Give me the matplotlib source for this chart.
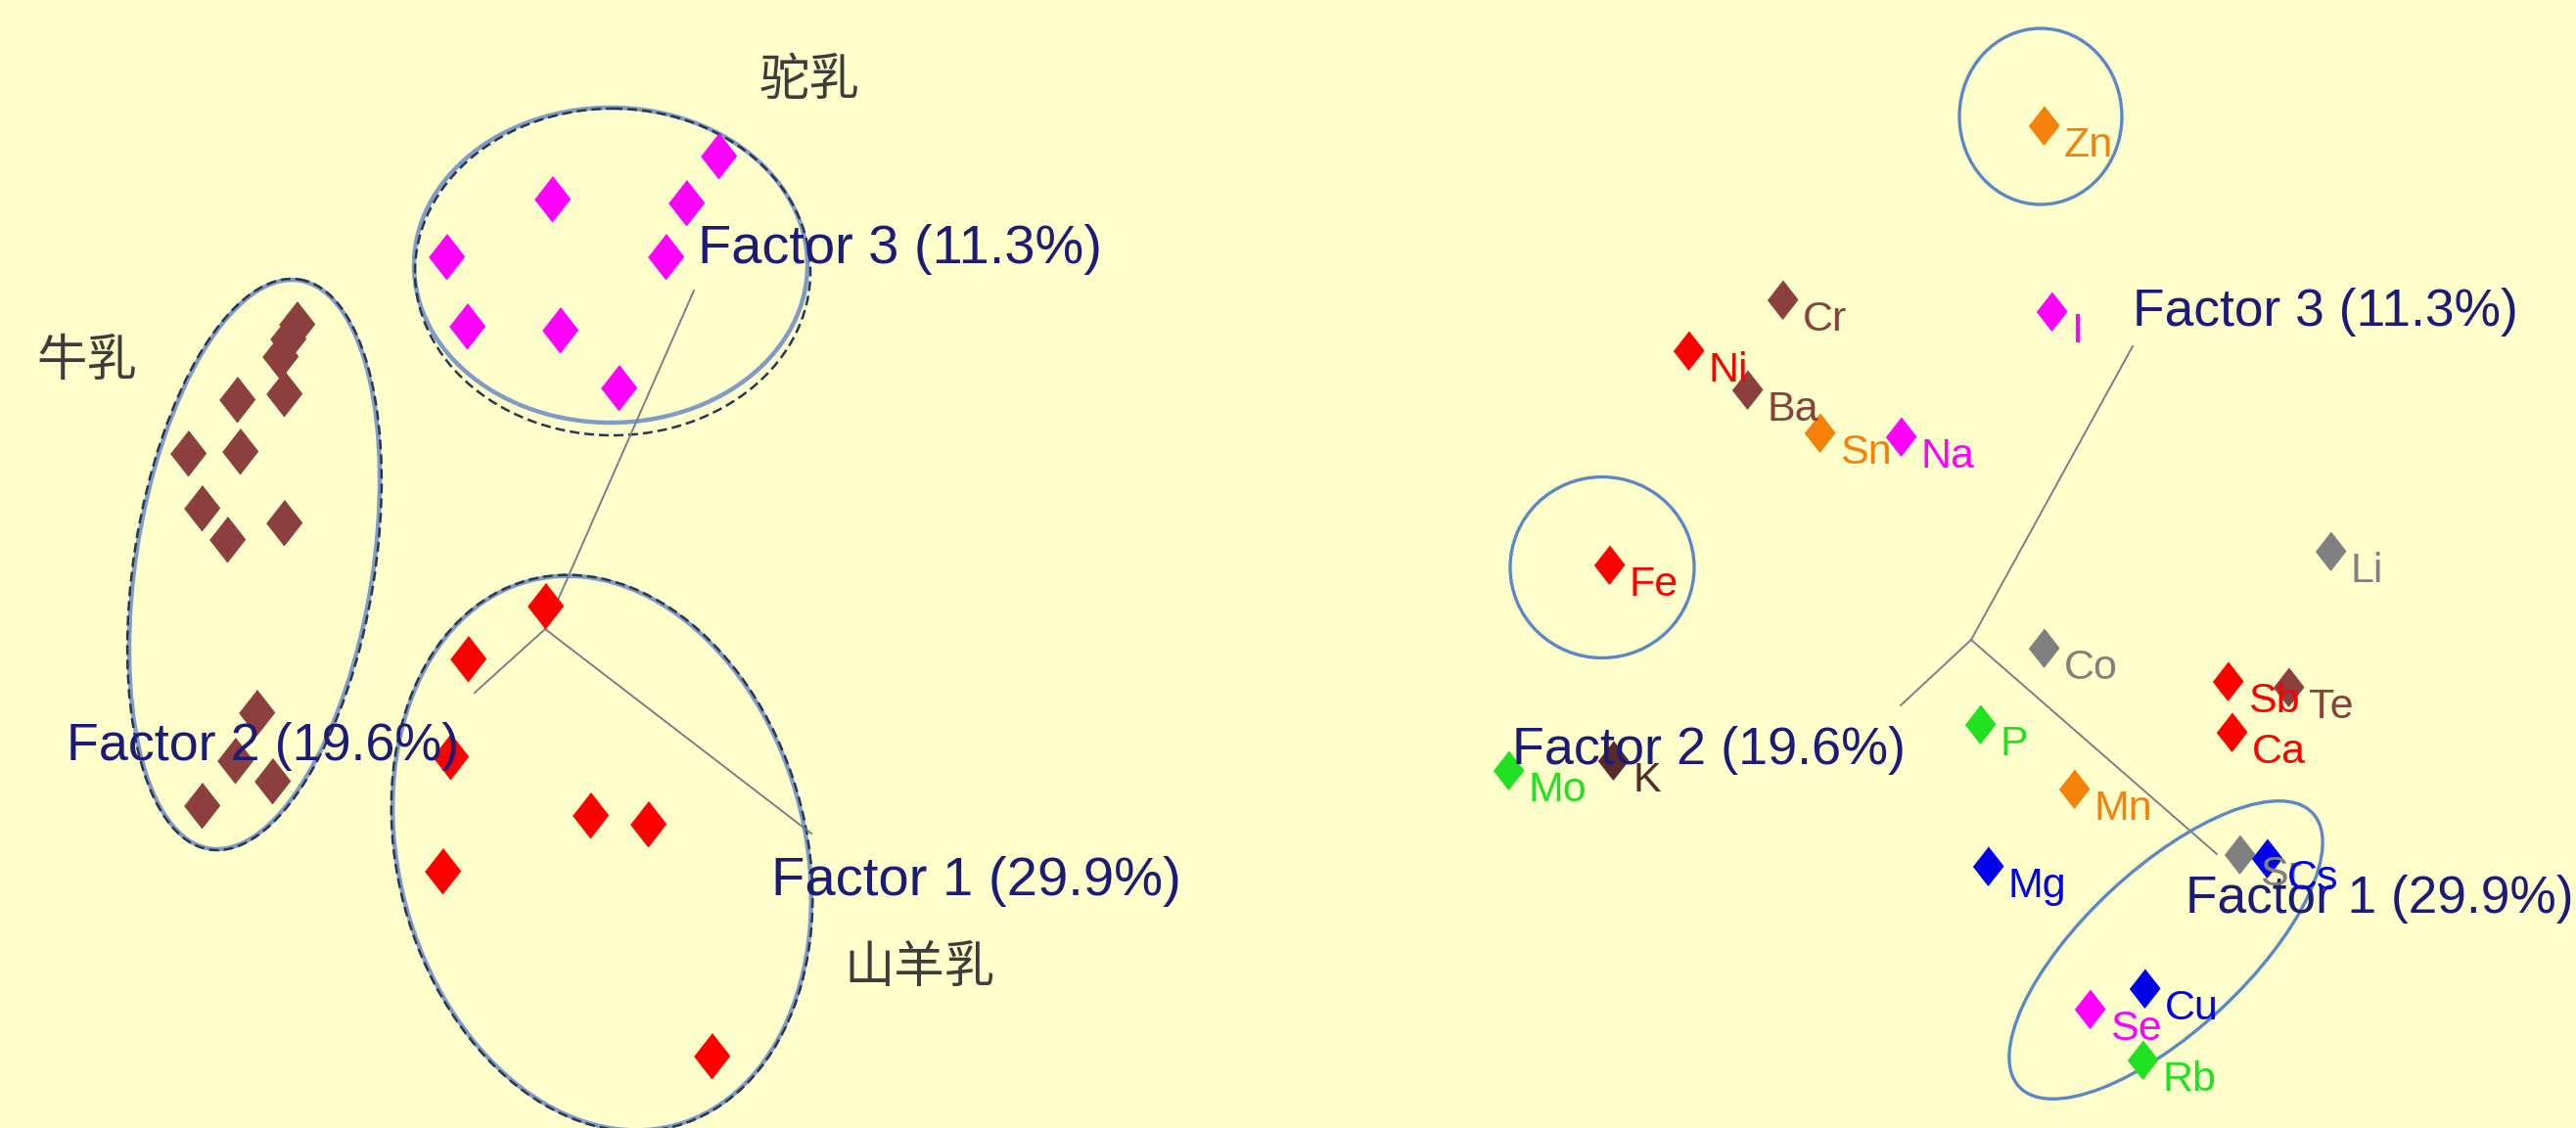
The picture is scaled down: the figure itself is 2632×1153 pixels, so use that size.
import matplotlib
matplotlib.use("Agg")
import matplotlib.pyplot as plt
from matplotlib.patches import Ellipse
from matplotlib import font_manager

# pick a narrow latin font if we have one
names = set(f.name for f in font_manager.fontManager.ttflist)
latin = 'Liberation Sans Narrow' if 'Liberation Sans Narrow' in names else 'Liberation Sans'
plt.rcParams['font.family'] = [latin, 'Noto Sans CJK SC', 'DejaVu Sans']

# ---- left panel: samples (score plot) ----
camel_x = [734, 564, 701, 456, 680, 477, 572, 632]
camel_y = [159, 203, 207, 262, 262, 333, 337, 396]
cow_x = [303, 294, 286, 290, 242, 192, 245, 206, 232, 290, 262, 240, 278, 206]
cow_y = [331, 346, 364, 402, 408, 463, 461, 519, 551, 534, 728, 777, 798, 823]
goat_x = [557, 478, 460, 603, 662, 452, 727]
goat_y = [619, 673, 773, 833, 842, 890, 1079]
group_names = ['驼乳', '牛乳', '山羊乳']
group_name_x = [775, 37, 862]
group_name_y = [97, 384, 1004]

# ---- right panel: elements (loading plot) ----
elements = ['Zn', 'Cr', 'Ni', 'Ba', 'Sn', 'Na', 'I', 'Li', 'Fe', 'Co', 'Sb', 'Te',
            'Ca', 'P', 'Mo', 'K', 'Mn', 'Mg', 'Sr', 'Cs', 'Cu', 'Se', 'Rb']
elem_x = [2088, 1821, 1725, 1785, 1859, 1942, 2096, 2381, 1644, 2088, 2276, 2338,
          2280, 2023, 1541, 1648, 2119, 2031, 2288, 2316, 2191, 2135, 2189]
elem_y = [128, 306, 358, 398, 442, 446, 318, 563, 577, 662, 696, 702,
          748, 740, 787, 777, 806, 885, 873, 877, 1010, 1031, 1083]

orange = '#f5800a'
brown = '#8b3f3f'
red = '#ff0000'
mag = '#ff00ff'
gray = '#808080'
green = '#22e022'
blue = '#0000ee'
elem_colors = [orange, brown, red, brown, orange, mag, mag, gray, red, gray, red, brown,
               red, green, green, '#5a2a2a', orange, blue, gray, blue, blue, mag, green]

factor_labels = ['Factor 1 (29.9%)', 'Factor 2 (19.6%)', 'Factor 3 (11.3%)']

# axis lines: origin and the three factor directions, for each panel
left_origin = (557, 643)
left_ends = [(829, 852), (485, 708), (709, 297)]
left_label_xy = [(788, 915), (68, 777), (713, 269)]
left_label_size = [40.5, 38.8, 40.3]
right_origin = (2014, 654)
right_ends = [(2265, 873), (1942, 721), (2179, 354)]
right_label_xy = [(2233, 933), (1545, 781), (2179, 333)]
right_label_size = [38.3, 38.9, 38.4]

bg = '#ffffcc'
fig = plt.figure(figsize=(26.32, 11.53), dpi=100, facecolor=bg)
ax = fig.add_axes([0, 0, 1, 1])
ax.set_facecolor(bg)
ax.set_xlim(0, 2632)
ax.set_ylim(1153, 0)
ax.axis('off')

navy = '#1c1c78'
for origin, ends, lab_xy, sizes in [(left_origin, left_ends, left_label_xy, left_label_size),
                                    (right_origin, right_ends, right_label_xy, right_label_size)]:
    for (ex, ey) in ends:
        ax.plot([origin[0], ex], [origin[1], ey], color='#7c7c8c', lw=1.4, zorder=2)
    for lab, (lx, ly), fs in zip(factor_labels, lab_xy, sizes):
        ax.text(lx, ly, lab, color=navy, fontsize=fs, ha='left', va='baseline',
                zorder=5)

# ellipses, left panel: light solid outline plus dark dashed one
solid_c = '#7f9cc6'
dash_c = '#283650'
left_ell = [((624, 271), 402, 322, 0), ((260, 577), 242, 588, 9), ((615, 872), 415, 576, -15)]
left_ell_dash = [((626, 278), 404, 334, 0), ((260, 577), 246, 590, 9), ((615, 872), 418, 578, -15)]
for (c, w, h, a) in left_ell:
    ax.add_patch(Ellipse(c, w, h, angle=a, fill=False, ec=solid_c, lw=3.2, zorder=1))
for (c, w, h, a) in left_ell_dash:
    ax.add_patch(Ellipse(c, w, h, angle=a, fill=False, ec=dash_c, lw=1.8,
                         ls=(0, (4, 2)), zorder=1))

# ellipses, right panel
right_ell = [((2085, 119), 166, 180, 0), ((1637, 580), 188, 185, 0), ((2213, 971), 410, 165, -43)]
for (c, w, h, a) in right_ell:
    ax.add_patch(Ellipse(c, w, h, angle=a, fill=False, ec='#5a88c4', lw=2.4, zorder=1))

diamond = [(0, 1), (0.78, 0), (0, -1), (-0.78, 0)]
ax.plot(camel_x, camel_y, ls='none', marker=diamond, ms=33, color=mag, zorder=3)
ax.plot(cow_x, cow_y, ls='none', marker=diamond, ms=33, color=brown, zorder=3)
ax.plot(goat_x, goat_y, ls='none', marker=diamond, ms=33, color=red, zorder=3)

for name, gx, gy in zip(group_names, group_name_x, group_name_y):
    ax.text(gx, gy, name, family='Noto Sans CJK SC', fontsize=37, color='#3c3c3c',
            ha='left', va='baseline', zorder=4)

for el, x, y, c in zip(elements, elem_x, elem_y, elem_colors):
    ax.plot(x, y, ls='none', marker=diamond, ms=28, color=c, zorder=3)
    ax.annotate(el, (x, y), xytext=(15, -1), textcoords='offset points',
                color=c, fontsize=31, ha='left', va='top', zorder=6)

fig.savefig('out.png', dpi=100, facecolor=bg)
